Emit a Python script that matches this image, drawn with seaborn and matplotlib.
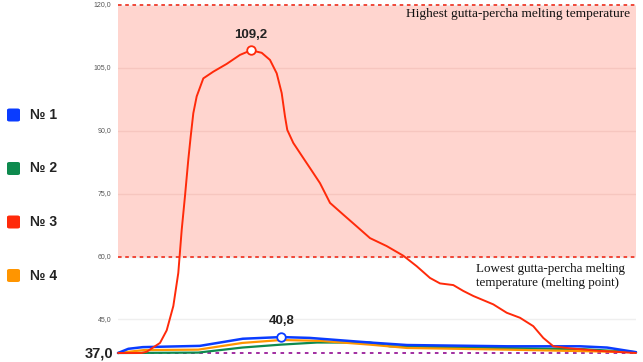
import matplotlib
matplotlib.use("Agg")
import matplotlib.pyplot as plt
from matplotlib.patches import FancyBboxPatch
import seaborn as sns
import pandas as pd

# ---- data ----
series_names = ["№ 1", "№ 2", "№ 3", "№ 4"]
colors = ["#0A3CFF", "#0E8A4E", "#FF2A0A", "#FF9500"]

x1 = [0, 2, 4.8, 15.8, 24.1, 31.5, 37, 48.6, 55.8, 75.1, 89.2, 94.4, 100]
y1 = [37, 38.0, 38.4, 38.7, 40.4, 40.8, 40.6, 39.5, 38.9, 38.6, 38.6, 38.3, 37.2]

x2 = [0, 15.5, 24, 31.5, 38.4, 48.6, 52.5, 68.5, 90, 100]
y2 = [37, 37.1, 38.3, 39.0, 39.5, 39.5, 38.6, 38.3, 37.9, 37.2]

x3 = [0, 4.5, 5.54, 8.11, 9.40, 10.68, 11.64, 12.30, 12.93, 13.57, 14.03, 14.54,
      15.19, 16.47, 18.40, 20.98, 23.55, 25.68, 27.74, 29.34, 30.64, 31.60, 32.24,
      32.68, 33.84, 35.77, 37.07, 39.0, 40.93, 43.49, 46.08, 48.65, 51.87, 55.08,
      57.66, 60.23, 62.16, 64.73, 66.66, 68.59, 72.45, 75.04, 77.61, 80.17, 82.1,
      84.04, 87.3, 93, 100]
y3 = [37, 37.0, 37.3, 39.4, 42.4, 48.2, 56.1, 66.4, 74.4, 83.1, 88.6, 94.2,
      98.2, 102.5, 104.1, 105.95, 108.1, 109.2, 108.6, 106.9, 103.7, 99.0, 93.4,
      90.2, 87.1, 83.5, 81.1, 77.5, 72.8, 70.0, 67.2, 64.4, 62.5, 60.2,
      57.7, 54.9, 53.6, 53.2, 51.8, 50.6, 48.6, 46.6, 45.4, 43.4, 40.6,
      38.6, 38.1, 37.5, 37.0]

x4 = [0, 5, 15.5, 24, 31.5, 39, 48.6, 55.8, 75, 100]
y4 = [37, 37.7, 37.8, 39.4, 40.1, 39.9, 39.0, 38.2, 37.8, 37.2]

ytick_vals = [45, 60, 75, 90, 105, 120]
ytick_labels = ["45,0", "60,0", "75,0", "90,0", "105,0", "120,0"]
base_val = 37.0
high_melt = 120
low_melt = 60
high_text = "Highest gutta-percha melting temperature"
low_text = "Lowest gutta-percha melting\ntemperature (melting point)"

# ---- build frame ----
frames = []
for name, xs, ys in zip(series_names, [x1, x2, x3, x4], [y1, y2, y3, y4]):
    frames.append(pd.DataFrame({"t": xs, "temp": ys, "series": name}))
df = pd.concat(frames, ignore_index=True)

sns.set_theme(style="white")
plt.rcParams['font.family'] = ['Liberation Sans', 'DejaVu Sans']

W, H = 643, 362
fig = plt.figure(figsize=(W / 100, H / 100), dpi=100)
L, R, T, B = 118, 636, 5, 353
ax = fig.add_axes([L / W, 1 - B / H, (R - L) / W, (B - T) / H])
ax.set_xlim(0, 100)
ax.set_ylim(base_val, 120)

# pink band
ax.axhspan(low_melt, high_melt, color="#FFD5CF", zorder=0, lw=0)
# gridlines
for v in ytick_vals:
    c = "#F6C6BF" if low_melt < v < high_melt else "#EFEFEF"
    ax.axhline(v, color=c, lw=1.0, zorder=0.5)
ax.axhline(high_melt, color="#F03A2A", lw=1.3, ls=(0, (2, 2)), zorder=1, clip_on=False)
ax.axhline(low_melt, color="#F03A2A", lw=1.3, ls=(0, (2, 2)), zorder=1)
ax.axhline(base_val, color="#9A1E9A", lw=1.3, ls=(0, (2, 2.5)), zorder=1, clip_on=False)

# lines
order = ["№ 2", "№ 4", "№ 1", "№ 3"]
pal = dict(zip(series_names, colors))
widths = {"№ 1": 1.8, "№ 2": 1.6, "№ 3": 1.4, "№ 4": 1.6}
for i, name in enumerate(order):
    sub = df[df.series == name]
    sns.lineplot(data=sub, x="t", y="temp", color=pal[name], lw=widths[name],
                 ax=ax, legend=False, zorder=3 + i, sort=False, clip_on=False)

# peak markers
for name in ["№ 3", "№ 1"]:
    sub = df[df.series == name]
    pk = sub.loc[sub.temp.idxmax()]
    ax.scatter([pk.t], [pk.temp], s=38, facecolor="white", edgecolor=pal[name],
               lw=1.3, zorder=10, clip_on=False)
    ax.annotate(f"{pk.temp:.1f}".replace(".", ","), (pk.t, pk.temp),
                xytext=(0, 7), textcoords="offset points", ha="center", va="bottom",
                fontsize=9.5, fontweight="bold", color="#222222")

ax.set_xticks([])
ax.set_yticks([])
ax.set_xlabel("")
ax.set_ylabel("")
for s in ax.spines.values():
    s.set_visible(False)

# y tick labels
for v, lab in zip(ytick_vals, ytick_labels):
    ax.text(-0.013, v, lab, transform=ax.get_yaxis_transform(), ha="right",
            va="center", fontsize=5, color="#555555")
ax.text(-0.009, base_val, f"{base_val:.1f}".replace(".", ","),
        transform=ax.get_yaxis_transform(), ha="right", va="center",
        fontsize=10.5, fontweight="bold", color="#222222")

# annotations
fig.text(630 / W, 1 - 14 / H, high_text, ha="right", va="center", fontsize=9.6,
         family="Liberation Serif", color="#111111")
fig.text(476 / W, 1 - 276 / H, low_text, ha="left", va="center", fontsize=9.4,
         family="Liberation Serif", color="#111111", linespacing=1.2)

# legend (manual)
for i, (name, c) in enumerate(zip(series_names, colors)):
    cy = 115 + i * 53.5
    box = FancyBboxPatch((7 / W, 1 - (cy + 6.5) / H), 13 / W, 13 / H,
                         boxstyle="round,pad=0,rounding_size=0.004",
                         transform=fig.transFigure, facecolor=c, edgecolor="none")
    fig.patches.append(box)
    fig.text(30 / W, 1 - cy / H, name, ha="left", va="center", fontsize=10,
             fontweight="bold", color="#222222")

fig.savefig("out.png", dpi=100)
